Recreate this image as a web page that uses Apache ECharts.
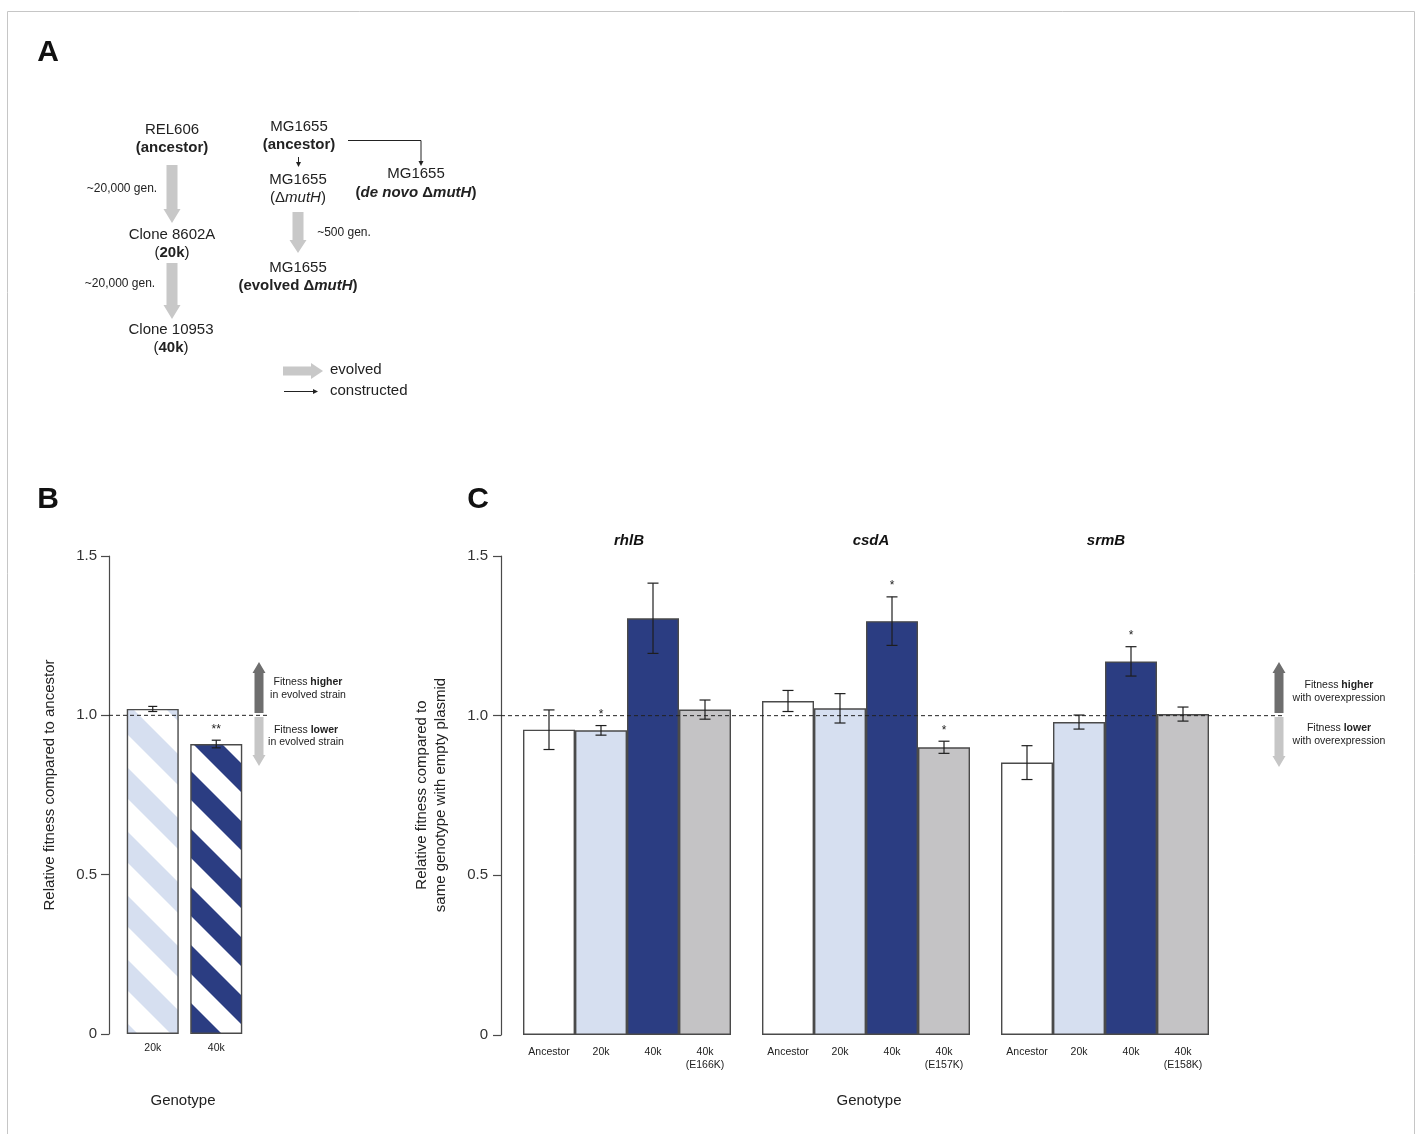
<!DOCTYPE html>
<html>
<head>
<meta charset="utf-8">
<script src="https://cdn.jsdelivr.net/npm/echarts@6/dist/echarts.min.js"></script>
<style>
html,body{margin:0;padding:0;background:#fff;}
#chart{width:1416px;height:1134px;}
</style>
</head>
<body>
<div id="chart"></div>
<script>
// ---------------- DATA ----------------
const yTickValues = [0, 0.5, 1.0, 1.5];
const referenceFitness = 1.0;

// Panel B
const panelBCategories = ['20k', '40k'];
const panelBValues = [1.02, 0.91];
const panelBErrors = [0.008, 0.012];
const panelBStars = ['', '**'];

// Panel C
const panelCGenes = ['rhlB', 'csdA', 'srmB'];
const rhlBCategories = ['Ancestor', '20k', '40k', '40k\n(E166K)'];
const csdACategories = ['Ancestor', '20k', '40k', '40k\n(E157K)'];
const srmBCategories = ['Ancestor', '20k', '40k', '40k\n(E158K)'];
const rhlBValues = [0.956, 0.954, 1.305, 1.019];
const rhlBErrors = [0.062, 0.015, 0.110, 0.030];
const rhlBStars = ['', '*', '', ''];
const csdAValues = [1.046, 1.023, 1.296, 0.901];
const csdAErrors = [0.033, 0.046, 0.076, 0.019];
const csdAStars = ['', '', '*', '*'];
const srmBValues = [0.853, 0.980, 1.170, 1.005];
const srmBErrors = [0.053, 0.022, 0.046, 0.022];
const srmBStars = ['', '', '*', ''];

// ---------------- STYLE ----------------
const FONT = '"Liberation Sans", Arial, Helvetica, sans-serif';
const barColors = ['#ffffff', '#d6dff0', '#2b3d82', '#c4c3c5'];
const borderCol = '#4a4a4a';

function stripes(color, period, thick) {
  const c = document.createElement('canvas');
  c.width = period; c.height = period;
  const ctx = c.getContext('2d');
  ctx.fillStyle = '#ffffff';
  ctx.fillRect(0, 0, period, period);
  ctx.fillStyle = color;
  for (let k = -2 * period; k <= 2 * period; k += period) {
    ctx.beginPath();
    ctx.moveTo(0, k);
    ctx.lineTo(period, k + period);
    ctx.lineTo(period, k + period + thick);
    ctx.lineTo(0, k + thick);
    ctx.closePath();
    ctx.fill();
  }
  return c;
}
const bPatterns = [
  { image: stripes('#d6dff0', 64, 31), repeat: 'repeat' },
  { image: stripes('#2b3d82', 58, 29), repeat: 'repeat' }
];

// ---------------- GRAPHICS HELPERS ----------------
function txt(x, y, text, size, opts) {
  opts = opts || {};
  return {
    type: 'text', x: x, y: y, z: 10, rotation: opts.rotation || 0,
    style: {
      text: text, fill: opts.color || '#222',
      font: (opts.fontStyle || 'normal') + ' ' + (opts.weight || 'normal') + ' ' + size + 'px ' + FONT,
      textAlign: opts.align || 'center', textVerticalAlign: 'middle',
      align: opts.align || 'center', verticalAlign: 'middle'
    }
  };
}
function rich(x, y, text, size, richDef) {
  const r = {};
  Object.keys(richDef).forEach(k => {
    r[k] = Object.assign({ fontSize: size, fontFamily: FONT, fill: '#222', color: '#222' }, richDef[k]);
  });
  return {
    type: 'text', x: x, y: y, z: 10,
    style: {
      text: text, rich: r, fontSize: size, fontFamily: FONT, fill: '#222',
      textAlign: 'center', textVerticalAlign: 'middle', align: 'center', verticalAlign: 'middle'
    }
  };
}
function thickDown(cx, y1, y2, sw, hw, hl, color) {
  return { type: 'polygon', z: 5, shape: { points: [
    [cx - sw / 2, y1], [cx + sw / 2, y1], [cx + sw / 2, y2 - hl], [cx + hw / 2, y2 - hl],
    [cx, y2], [cx - hw / 2, y2 - hl], [cx - sw / 2, y2 - hl]] }, style: { fill: color } };
}
function thickUp(cx, y1, y2, sw, hw, hl, color) {
  return { type: 'polygon', z: 5, shape: { points: [
    [cx - sw / 2, y1], [cx + sw / 2, y1], [cx + sw / 2, y2 + hl], [cx + hw / 2, y2 + hl],
    [cx, y2], [cx - hw / 2, y2 + hl], [cx - sw / 2, y2 + hl]] }, style: { fill: color } };
}
function thickRight(x1, x2, cy, sw, hw, hl, color) {
  return { type: 'polygon', z: 5, shape: { points: [
    [x1, cy - sw / 2], [x2 - hl, cy - sw / 2], [x2 - hl, cy - hw / 2], [x2, cy],
    [x2 - hl, cy + hw / 2], [x2 - hl, cy + sw / 2], [x1, cy + sw / 2]] }, style: { fill: color } };
}
function thinLine(points) {
  return { type: 'polyline', z: 5, shape: { points: points }, style: { stroke: '#222', lineWidth: 1, fill: null } };
}
function headDown(x, y) {
  return { type: 'polygon', z: 5, shape: { points: [[x - 2.5, y - 5], [x + 2.5, y - 5], [x, y]] }, style: { fill: '#222' } };
}
function headRight(x, y) {
  return { type: 'polygon', z: 5, shape: { points: [[x - 5, y - 2.5], [x - 5, y + 2.5], [x, y]] }, style: { fill: '#222' } };
}

const graphics = [
  { type: 'rect', z: 0, shape: { x: 7.5, y: 11.5, width: 1407, height: 1140 }, style: { fill: null, stroke: '#c6c6c6', lineWidth: 1 } },
  txt(48, 53, 'A', 30, { weight: 'bold', color: '#111' }),
  txt(48, 500, 'B', 30, { weight: 'bold', color: '#111' }),
  txt(478, 500, 'C', 30, { weight: 'bold', color: '#111' }),

  // Panel A : left lineage
  txt(172, 130, 'REL606', 15),
  txt(172, 148, '(ancestor)', 15, { weight: 'bold' }),
  thickDown(172, 165, 223, 11, 17, 14, '#c8c8c8'),
  txt(122, 189, '~20,000 gen.', 12),
  txt(172, 235, 'Clone 8602A', 15),
  rich(172, 253, '{n|(}{b|20k}{n|)}', 15, { n: {}, b: { fontWeight: 'bold' } }),
  thickDown(172, 263, 319, 11, 17, 14, '#c8c8c8'),
  txt(120, 284, '~20,000 gen.', 12),
  txt(171, 330, 'Clone 10953', 15),
  rich(171, 348, '{n|(}{b|40k}{n|)}', 15, { n: {}, b: { fontWeight: 'bold' } }),

  // Panel A : MG1655 lineage
  txt(299, 127, 'MG1655', 15),
  txt(299, 145, '(ancestor)', 15, { weight: 'bold' }),
  thinLine([[298.5, 157], [298.5, 164]]),
  headDown(298.5, 167),
  txt(298, 180, 'MG1655', 15),
  rich(298, 198, '{n|(Δ}{i|mutH}{n|)}', 15, { n: {}, i: { fontStyle: 'italic' } }),
  thickDown(298, 212, 253, 11, 17, 13, '#c8c8c8'),
  txt(344, 233, '~500 gen.', 12),
  txt(298, 268, 'MG1655', 15),
  rich(298, 286, '{b|(evolved Δ}{bi|mutH}{b|)}', 15, { b: { fontWeight: 'bold' }, bi: { fontWeight: 'bold', fontStyle: 'italic' } }),
  thinLine([[348, 140.5], [421, 140.5], [421, 162]]),
  headDown(421, 166),
  txt(416, 174, 'MG1655', 15),
  rich(416, 193, '{b|(}{bi|de novo}{b| Δ}{bi|mutH}{b|)}', 15, { b: { fontWeight: 'bold' }, bi: { fontWeight: 'bold', fontStyle: 'italic' } }),

  // Panel A legend
  thickRight(283, 323, 371, 9, 16, 12, '#c8c8c8'),
  txt(330, 370, 'evolved', 15, { align: 'left' }),
  thinLine([[284, 391.5], [314, 391.5]]),
  headRight(318, 391.5),
  txt(330, 391, 'constructed', 15, { align: 'left' }),

  // Panel B annotations
  txt(50, 785, 'Relative fitness compared to ancestor', 15, { rotation: Math.PI / 2 }),
  txt(183, 1101, 'Genotype', 15),
  thickUp(259, 713, 662, 9, 13, 11, '#6e6e6e'),
  thickDown(259, 717, 766, 9, 13, 11, '#c6c6c6'),
  rich(308, 682, '{n|Fitness }{b|higher}', 10.5, { n: {}, b: { fontWeight: 'bold' } }),
  txt(308, 695, 'in evolved strain', 10.5),
  rich(306, 730, '{n|Fitness }{b|lower}', 10.5, { n: {}, b: { fontWeight: 'bold' } }),
  txt(306, 742, 'in evolved strain', 10.5),

  // Panel C annotations
  txt(422, 795, 'Relative fitness compared to', 15, { rotation: Math.PI / 2 }),
  txt(441, 795, 'same genotype with empty plasmid', 15, { rotation: Math.PI / 2 }),
  txt(869, 1101, 'Genotype', 15),
  txt(629, 541, panelCGenes[0], 15, { weight: 'bold', fontStyle: 'italic', color: '#111' }),
  txt(871, 541, panelCGenes[1], 15, { weight: 'bold', fontStyle: 'italic', color: '#111' }),
  txt(1106, 541, panelCGenes[2], 15, { weight: 'bold', fontStyle: 'italic', color: '#111' }),
  thickUp(1279, 713, 662, 9, 13, 11, '#6e6e6e'),
  thickDown(1279, 717, 767, 9, 13, 11, '#c6c6c6'),
  rich(1339, 685, '{n|Fitness }{b|higher}', 10.5, { n: {}, b: { fontWeight: 'bold' } }),
  txt(1339, 698, 'with overexpression', 10.5),
  rich(1339, 728, '{n|Fitness }{b|lower}', 10.5, { n: {}, b: { fontWeight: 'bold' } }),
  txt(1339, 741, 'with overexpression', 10.5)
];

// ---------------- AXES ----------------
const yMin = yTickValues[0], yMax = yTickValues[yTickValues.length - 1];
const yInterval = yTickValues[1] - yTickValues[0];
function shownY(grid, margin) {
  return {
    gridIndex: grid, type: 'value', min: yMin, max: yMax, interval: yInterval,
    axisLine: { show: true, lineStyle: { color: '#4a4a4a', width: 1.2 } },
    axisTick: { show: true, length: 8, lineStyle: { color: '#4a4a4a', width: 1.2 } },
    axisLabel: { margin: margin, fontSize: 15, fontFamily: FONT, color: '#333',
      formatter: v => (v === 0 ? '0' : v.toFixed(1)) },
    splitLine: { show: false }
  };
}
function hiddenY(grid) {
  return { gridIndex: grid, type: 'value', min: yMin, max: yMax, interval: yInterval, show: false, splitLine: { show: false } };
}
function hiddenX(grid) {
  return { gridIndex: grid, type: 'value', min: 0, max: 1, show: false, splitLine: { show: false } };
}
function catX(grid, cats, margin) {
  return {
    gridIndex: grid, type: 'category', data: cats,
    axisLine: { show: false }, axisTick: { show: false },
    axisLabel: { margin: margin, fontSize: 10.5, fontFamily: FONT, color: '#222', lineHeight: 13, interval: 0 },
    splitLine: { show: false }
  };
}

function errSeries(xi, yi, values, errors, stars, cap) {
  return {
    type: 'custom', xAxisIndex: xi, yAxisIndex: yi, z: 6, silent: true,
    data: values.map((v, i) => [i, v, errors[i]]),
    renderItem: function (params, api) {
      const i = api.value(0), v = api.value(1), e = api.value(2);
      const hi = api.coord([i, v + e]);
      const lo = api.coord([i, v - e]);
      const st = { stroke: '#1e1e1e', lineWidth: 1.2 };
      const ch = [
        { type: 'line', shape: { x1: hi[0], y1: hi[1], x2: lo[0], y2: lo[1] }, style: st },
        { type: 'line', shape: { x1: hi[0] - cap, y1: hi[1], x2: hi[0] + cap, y2: hi[1] }, style: st },
        { type: 'line', shape: { x1: lo[0] - cap, y1: lo[1], x2: lo[0] + cap, y2: lo[1] }, style: st }
      ];
      const s = stars[params.dataIndex];
      if (s) {
        ch.push({ type: 'text', x: hi[0], y: hi[1] - 5,
          style: { text: s, font: 'normal 12px ' + FONT, fill: '#222',
            textAlign: 'center', textVerticalAlign: 'bottom', align: 'center', verticalAlign: 'bottom' } });
      }
      return { type: 'group', children: ch };
    }
  };
}
function barSeries(xi, yi, values, colorsFn, width) {
  return {
    type: 'bar', xAxisIndex: xi, yAxisIndex: yi, z: 2, barCategoryGap: 0, barWidth: width, silent: true,
    data: values.map((v, i) => ({ value: v, itemStyle: { color: colorsFn(i) } })),
    itemStyle: { borderColor: borderCol, borderWidth: 1.4 }
  };
}
function refLine(xi, yi) {
  return {
    type: 'line', xAxisIndex: xi, yAxisIndex: yi, z: 5, silent: true, symbol: 'none',
    data: [[0, referenceFitness], [1, referenceFitness]],
    lineStyle: { color: '#222', width: 1, type: [4, 3] }
  };
}

const option = {
  animation: false,
  backgroundColor: '#ffffff',
  textStyle: { fontFamily: FONT },
  grid: [
    { left: 109, top: 556, width: 158, height: 478 },   // 0 B axis
    { left: 121, top: 556, width: 127, height: 478 },   // 1 B bars
    { left: 501, top: 556, width: 782, height: 479 },   // 2 C axis
    { left: 523, top: 556, width: 208, height: 479 },   // 3 rhlB
    { left: 762, top: 556, width: 208, height: 479 },   // 4 csdA
    { left: 1001, top: 556, width: 208, height: 479 }   // 5 srmB
  ],
  xAxis: [
    hiddenX(0),
    catX(1, panelBCategories, 8),
    hiddenX(2),
    catX(3, rhlBCategories, 11),
    catX(4, csdACategories, 11),
    catX(5, srmBCategories, 11)
  ],
  yAxis: [
    shownY(0, 12),
    hiddenY(1),
    shownY(2, 13),
    hiddenY(3), hiddenY(4), hiddenY(5)
  ],
  series: [
    barSeries(1, 1, panelBValues, i => bPatterns[i], 52),
    refLine(0, 0),
    errSeries(1, 1, panelBValues, panelBErrors, panelBStars, 4.5),
    barSeries(3, 3, rhlBValues, i => barColors[i], '100%'),
    barSeries(4, 4, csdAValues, i => barColors[i], '100%'),
    barSeries(5, 5, srmBValues, i => barColors[i], '100%'),
    refLine(2, 2),
    errSeries(3, 3, rhlBValues, rhlBErrors, rhlBStars, 5.5),
    errSeries(4, 4, csdAValues, csdAErrors, csdAStars, 5.5),
    errSeries(5, 5, srmBValues, srmBErrors, srmBStars, 5.5)
  ],
  graphic: graphics
};

const chart = echarts.init(document.getElementById('chart'), null, { renderer: 'canvas' });
chart.setOption(option);
</script>
</body>
</html>
